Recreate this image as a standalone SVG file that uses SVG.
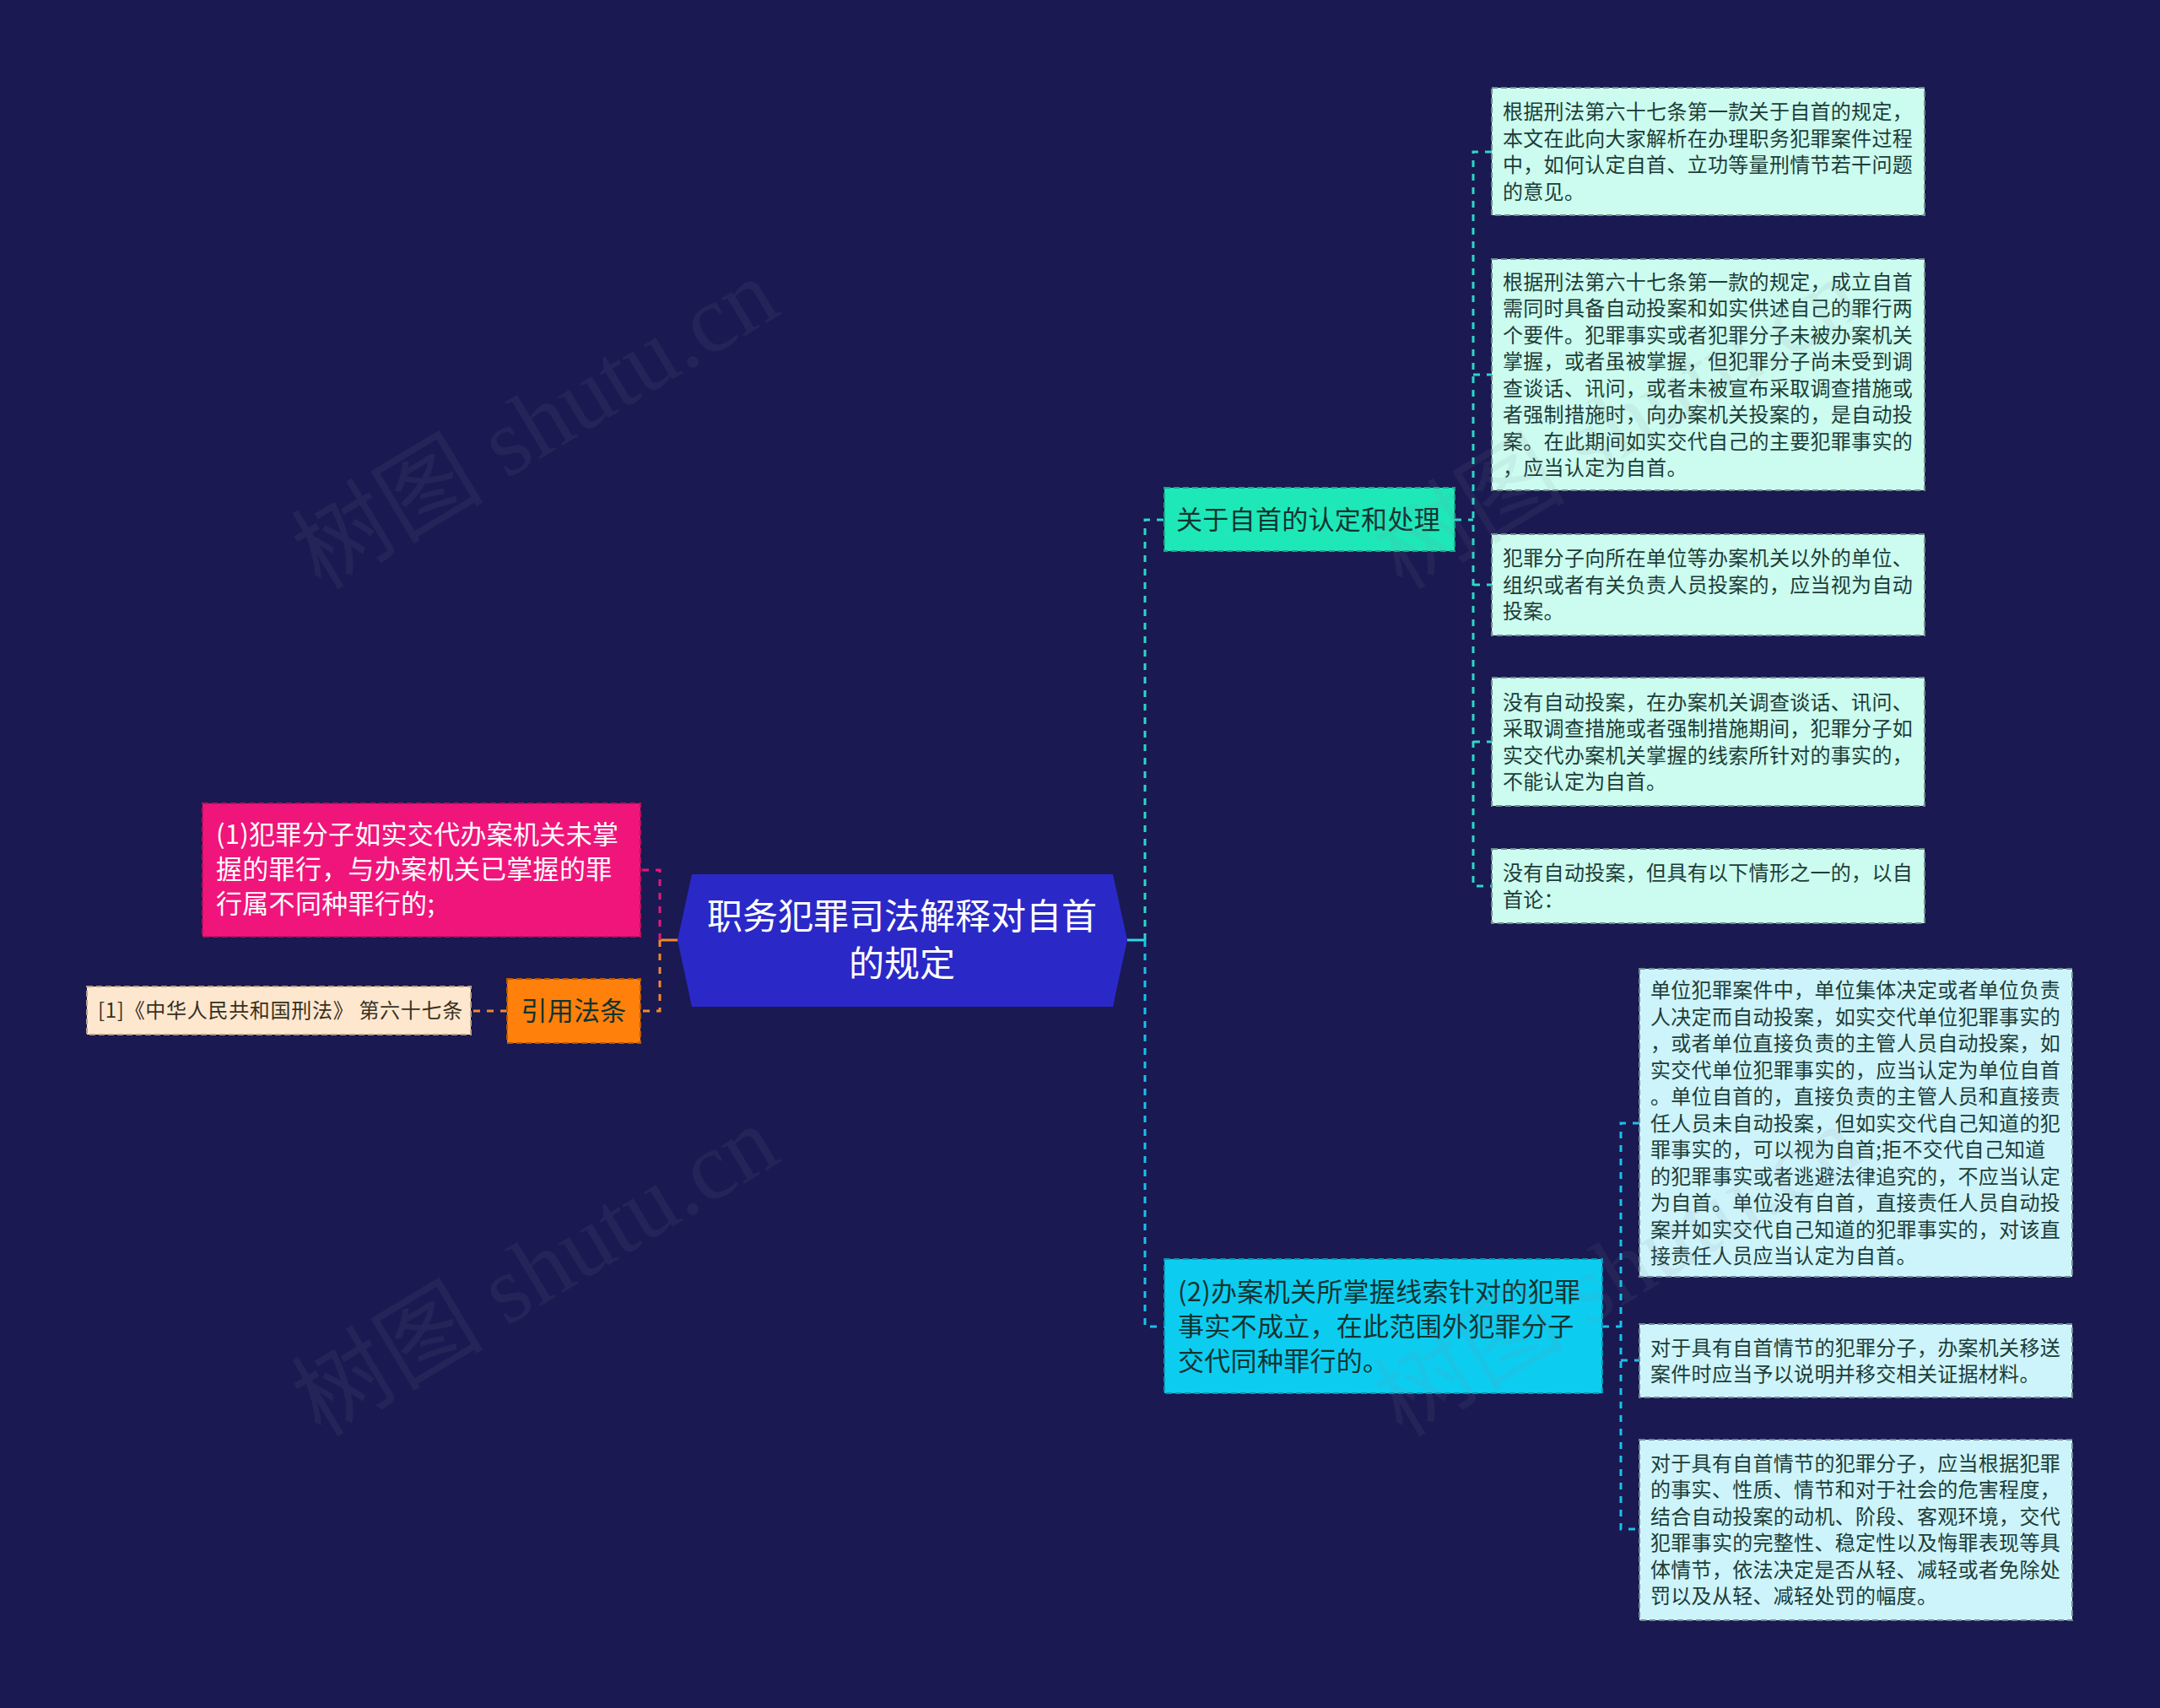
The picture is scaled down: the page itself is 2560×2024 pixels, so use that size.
<svg xmlns="http://www.w3.org/2000/svg" width="2560" height="2024" viewBox="0 0 2560 2024">
<style>
text{font-family:"Noto Sans CJK SC","Noto Sans",sans-serif;}
.leafA{fill:#cbfcef;stroke:#6f8f88;stroke-width:2;stroke-dasharray:7 4;}
.leafB{fill:#cdf4fb;stroke:#6f8a94;stroke-width:2;stroke-dasharray:7 4;}
.lt{font-size:24px;fill:#1d3d38;letter-spacing:0.3px;}
.mt{font-size:31px;fill:#123330;letter-spacing:0.3px;}
.wt{font-size:31px;fill:#ffffff;letter-spacing:0.3px;}
.cA{fill:none;stroke:#2bd8c8;stroke-width:3;stroke-dasharray:8 8;}
.cB{fill:none;stroke:#18c2ec;stroke-width:3;stroke-dasharray:8 8;}
.cP{fill:none;stroke:#e5187c;stroke-width:3;stroke-dasharray:8 8;}
.cO{fill:none;stroke:#f28a2c;stroke-width:3;stroke-dasharray:8 8;}
.wm{font-family:"Liberation Serif","Noto Sans CJK SC",serif;font-size:114px;fill:#8a8aa0;opacity:0.10;}
</style>
<rect x="0" y="0" width="2560" height="2024" fill="#1a1951"/>

<g id="connectors">
  <path d="M1336 1114 H1357" stroke="#2bd8e0" stroke-width="3" fill="none"/>
  <path class="cA" d="M1357 1114 V616 H1380"/>
  <path class="cB" d="M1357 1114 V1572 H1380"/>
  <path d="M803 1114 H782" stroke="#f28a2c" stroke-width="3" fill="none"/>
  <path class="cP" d="M782 1114 V1031 H759"/>
  <path class="cO" d="M782 1114 V1198 H759"/>
  <path class="cO" d="M601 1198 H558"/>
  <path class="cA" d="M1724 616 H1746"/>
  <path class="cA" d="M1768 180 H1746 V1050 H1768"/>
  <path class="cA" d="M1746 444 H1768"/>
  <path class="cA" d="M1746 693 H1768"/>
  <path class="cA" d="M1746 879 H1768"/>
  <path class="cB" d="M1899 1572 H1921"/>
  <path class="cB" d="M1943 1331 H1921 V1812 H1943"/>
  <path class="cB" d="M1921 1612 H1943"/>
</g>

<g id="root">
  <polygon points="803,1114 820,1036 1319,1036 1336,1114 1319,1193 820,1193" fill="#2a29c8"/>
  <text x="1069" y="1101" text-anchor="middle" font-size="42" fill="#ffffff">职务犯罪司法解释对自首</text>
  <text x="1069" y="1157" text-anchor="middle" font-size="42" fill="#ffffff">的规定</text>
</g>

<g id="n-guanyu">
  <rect x="1380" y="578" width="344" height="75" fill="#1ee8b8" stroke="#17a88a" stroke-width="2" stroke-dasharray="7 4"/>
  <text class="mt" x="1394" y="627">关于自首的认定和处理</text>
</g>

<g id="n-2">
  <rect x="1380" y="1492" width="519" height="159" fill="#0ccdf0" stroke="#0a94b0" stroke-width="2" stroke-dasharray="7 4"/>
  <text class="mt" x="1396" y="1542">(2)办案机关所掌握线索针对的犯罪</text>
  <text class="mt" x="1396" y="1583">事实不成立，在此范围外犯罪分子</text>
  <text class="mt" x="1396" y="1624">交代同种罪行的。</text>
</g>

<g id="n-1">
  <rect x="240" y="952" width="519" height="158" fill="#f0157b" stroke="#b80f5c" stroke-width="2" stroke-dasharray="7 4"/>
  <text class="wt" x="256" y="1000">(1)犯罪分子如实交代办案机关未掌</text>
  <text class="wt" x="256" y="1041">握的罪行，与办案机关已掌握的罪</text>
  <text class="wt" x="256" y="1082">行属不同种罪行的;</text>
</g>

<g id="n-cite">
  <rect x="601" y="1160" width="158" height="76" fill="#ff800a" stroke="#b85a00" stroke-width="2" stroke-dasharray="7 4"/>
  <text class="mt" x="680" y="1209" text-anchor="middle" fill="#3a2a10">引用法条</text>
</g>

<g id="n-law">
  <rect x="103" y="1169" width="455" height="57" fill="#fde7cf" stroke="#b8a08a" stroke-width="2" stroke-dasharray="7 4"/>
  <text x="116" y="1206" font-size="24" letter-spacing="0.7" fill="#3a3020">[1]《中华人民共和国刑法》 第六十七条</text>
</g>

<g id="leaf1">
  <rect class="leafA" x="1768" y="104" width="513" height="151"/>
  <text class="lt" x="1781" y="141">根据刑法第六十七条第一款关于自首的规定，</text>
  <text class="lt" x="1781" y="172.5">本文在此向大家解析在办理职务犯罪案件过程</text>
  <text class="lt" x="1781" y="204">中，如何认定自首、立功等量刑情节若干问题</text>
  <text class="lt" x="1781" y="235.5">的意见。</text>
</g>

<g id="leaf2">
  <rect class="leafA" x="1768" y="307" width="513" height="274"/>
  <text class="lt" x="1781" y="342.5">根据刑法第六十七条第一款的规定，成立自首</text>
  <text class="lt" x="1781" y="374">需同时具备自动投案和如实供述自己的罪行两</text>
  <text class="lt" x="1781" y="405.5">个要件。犯罪事实或者犯罪分子未被办案机关</text>
  <text class="lt" x="1781" y="437">掌握，或者虽被掌握，但犯罪分子尚未受到调</text>
  <text class="lt" x="1781" y="468.5">查谈话、讯问，或者未被宣布采取调查措施或</text>
  <text class="lt" x="1781" y="500">者强制措施时，向办案机关投案的，是自动投</text>
  <text class="lt" x="1781" y="531.5">案。在此期间如实交代自己的主要犯罪事实的</text>
  <text class="lt" x="1781" y="563">，应当认定为自首。</text>
</g>

<g id="leaf3">
  <rect class="leafA" x="1768" y="633" width="513" height="120"/>
  <text class="lt" x="1781" y="670">犯罪分子向所在单位等办案机关以外的单位、</text>
  <text class="lt" x="1781" y="701.5">组织或者有关负责人员投案的，应当视为自动</text>
  <text class="lt" x="1781" y="733">投案。</text>
</g>

<g id="leaf4">
  <rect class="leafA" x="1768" y="803" width="513" height="152"/>
  <text class="lt" x="1781" y="840.5">没有自动投案，在办案机关调查谈话、讯问、</text>
  <text class="lt" x="1781" y="872">采取调查措施或者强制措施期间，犯罪分子如</text>
  <text class="lt" x="1781" y="903.5">实交代办案机关掌握的线索所针对的事实的，</text>
  <text class="lt" x="1781" y="935">不能认定为自首。</text>
</g>

<g id="leaf5">
  <rect class="leafA" x="1768" y="1006" width="513" height="88"/>
  <text class="lt" x="1781" y="1043">没有自动投案，但具有以下情形之一的，以自</text>
  <text class="lt" x="1781" y="1074.5">首论：</text>
</g>

<g id="leafB1">
  <rect class="leafB" x="1943" y="1148" width="513" height="365"/>
  <text class="lt" x="1956" y="1182">单位犯罪案件中，单位集体决定或者单位负责</text>
  <text class="lt" x="1956" y="1213.5">人决定而自动投案，如实交代单位犯罪事实的</text>
  <text class="lt" x="1956" y="1245">，或者单位直接负责的主管人员自动投案，如</text>
  <text class="lt" x="1956" y="1276.5">实交代单位犯罪事实的，应当认定为单位自首</text>
  <text class="lt" x="1956" y="1308">。单位自首的，直接负责的主管人员和直接责</text>
  <text class="lt" x="1956" y="1339.5">任人员未自动投案，但如实交代自己知道的犯</text>
  <text class="lt" x="1956" y="1371">罪事实的，可以视为自首;拒不交代自己知道</text>
  <text class="lt" x="1956" y="1402.5">的犯罪事实或者逃避法律追究的，不应当认定</text>
  <text class="lt" x="1956" y="1434">为自首。单位没有自首，直接责任人员自动投</text>
  <text class="lt" x="1956" y="1465.5">案并如实交代自己知道的犯罪事实的，对该直</text>
  <text class="lt" x="1956" y="1497">接责任人员应当认定为自首。</text>
</g>

<g id="leafB2">
  <rect class="leafB" x="1943" y="1569" width="513" height="87"/>
  <text class="lt" x="1956" y="1605.5">对于具有自首情节的犯罪分子，办案机关移送</text>
  <text class="lt" x="1956" y="1637">案件时应当予以说明并移交相关证据材料。</text>
</g>

<g id="leafB3">
  <rect class="leafB" x="1943" y="1706" width="513" height="214"/>
  <text class="lt" x="1956" y="1742.5">对于具有自首情节的犯罪分子，应当根据犯罪</text>
  <text class="lt" x="1956" y="1774">的事实、性质、情节和对于社会的危害程度，</text>
  <text class="lt" x="1956" y="1805.5">结合自动投案的动机、阶段、客观环境，交代</text>
  <text class="lt" x="1956" y="1837">犯罪事实的完整性、稳定性以及悔罪表现等具</text>
  <text class="lt" x="1956" y="1868.5">体情节，依法决定是否从轻、减轻或者免除处</text>
  <text class="lt" x="1956" y="1900">罚以及从轻、减轻处罚的幅度。</text>
</g>

<g id="watermarks">
  <text class="wm" transform="translate(380,700) rotate(-31)">树图 shutu.cn</text>
  <text class="wm" transform="translate(380,1704) rotate(-31)">树图 shutu.cn</text>
  <text class="wm" transform="translate(1662,700) rotate(-31)">树图 shutu.cn</text>
  <text class="wm" transform="translate(1662,1704) rotate(-31)">树图 shutu.cn</text>
</g>
</svg>
